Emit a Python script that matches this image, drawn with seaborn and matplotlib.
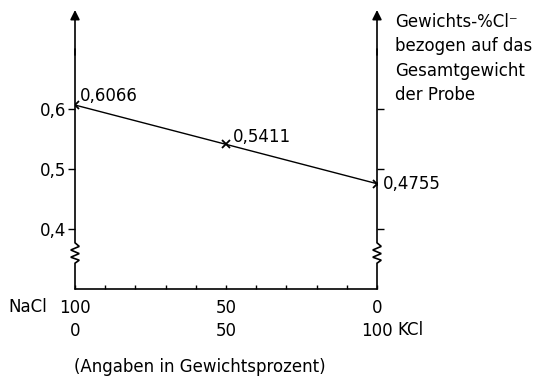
import matplotlib
matplotlib.use("Agg")
import matplotlib.pyplot as plt
import pandas as pd
import seaborn as sns

# Cl- Gehalt der Mischungen NaCl / KCl
kcl_percent = [0, 50, 100]
cl_weight = [0.6066, 0.5411, 0.4755]
point_labels = ["0,6066", "0,5411", "0,4755"]
point_offsets = [(3.5, 6.5), (5, 5), (4, 0)]  # in points

y_ticks = [0.4, 0.5, 0.6]
y_tick_labels = ["0,4", "0,5", "0,6"]
x_ticks = [0, 10, 20, 30, 40, 50, 60, 70, 80, 90, 100]
x_tick_labels = ["100\n0", "", "", "", "", "50\n50", "", "", "", "", "0\n100"]

sns.set_style("white")
plt.rcParams["font.family"] = ["DejaVu Sans"]
plt.rcParams["font.size"] = 12
plt.rcParams["text.color"] = "black"
plt.rcParams["xtick.color"] = "black"
plt.rcParams["ytick.color"] = "black"

fig = plt.figure(figsize=(5.57, 3.86), dpi=100)
ax = fig.add_axes([75 / 557, 97 / 386, 302 / 557, 276 / 386])

df = pd.DataFrame({"KCl": kcl_percent, "Cl": cl_weight})
sns.lineplot(data=df, x="KCl", y="Cl", color="black", lw=1.0,
             marker="x", markersize=6, markeredgewidth=1.3,
             markeredgecolor="black", ax=ax)

ax.set_xlim(0, 100)
ax.set_ylim(0.3, 0.76)
ax.set_xlabel("")
ax.set_ylabel("")
for s in ax.spines.values():
    s.set_visible(False)

# vertical axes with break (zigzag) and arrow
def draw_axis(x0):
    a = 1.4
    xs = [x0, x0, x0 + a, x0 - a, x0 + a, x0 - a, x0 + a, x0, x0]
    ys = [0.3, 0.343, 0.348, 0.353, 0.359, 0.365, 0.371, 0.377, 0.70]
    ax.plot(xs, ys, color="black", lw=1.2, clip_on=False,
            solid_joinstyle="miter")
    ax.annotate("", xy=(x0, 0.765), xytext=(x0, 0.69),
                arrowprops=dict(arrowstyle="-|>", color="black", lw=1.2,
                                mutation_scale=14, shrinkA=0, shrinkB=0),
                annotation_clip=False)

draw_axis(0)
draw_axis(100)
ax.plot([0, 100], [0.3, 0.3], color="black", lw=1.2, clip_on=False)

ax.set_yticks(y_ticks, y_tick_labels)
ax.tick_params(axis="y", left=True, direction="out", length=5, width=1,
               pad=1, labelsize=12, colors="black")
ax.set_xticks(x_ticks, x_tick_labels)
ax.tick_params(axis="x", bottom=True, direction="in", length=3, width=1,
               pad=7, labelsize=12, colors="black")
for lab in ax.get_xticklabels():
    lab.set_linespacing(1.4)

ax2 = ax.twinx()
ax2.set_ylim(0.3, 0.76)
ax2.set_yticks(y_ticks, ["", "", ""])
ax2.tick_params(axis="y", right=True, direction="out", length=5, width=1,
                colors="black")
for s in ax2.spines.values():
    s.set_visible(False)

for x, y, lab, off in zip(kcl_percent, cl_weight, point_labels, point_offsets):
    ax.annotate(lab, (x, y), xytext=off, textcoords="offset points",
                ha="left", va="center", fontsize=12, color="black")

fig.text(47 / 557, 1 - 307 / 386, "NaCl", ha="right", va="center", fontsize=12)
fig.text(397 / 557, 1 - 330 / 386, "KCl", ha="left", va="center", fontsize=12)
fig.text(200 / 557, 1 - 367 / 386, "(Angaben in Gewichtsprozent)",
         ha="center", va="center", fontsize=12)
fig.text(395 / 557, 1 - 13 / 386,
         "Gewichts-%Cl\u207b\nbezogen auf das\nGesamtgewicht\nder Probe",
         ha="left", va="top", fontsize=12, linespacing=1.45)

fig.savefig("out.png", dpi=100)
